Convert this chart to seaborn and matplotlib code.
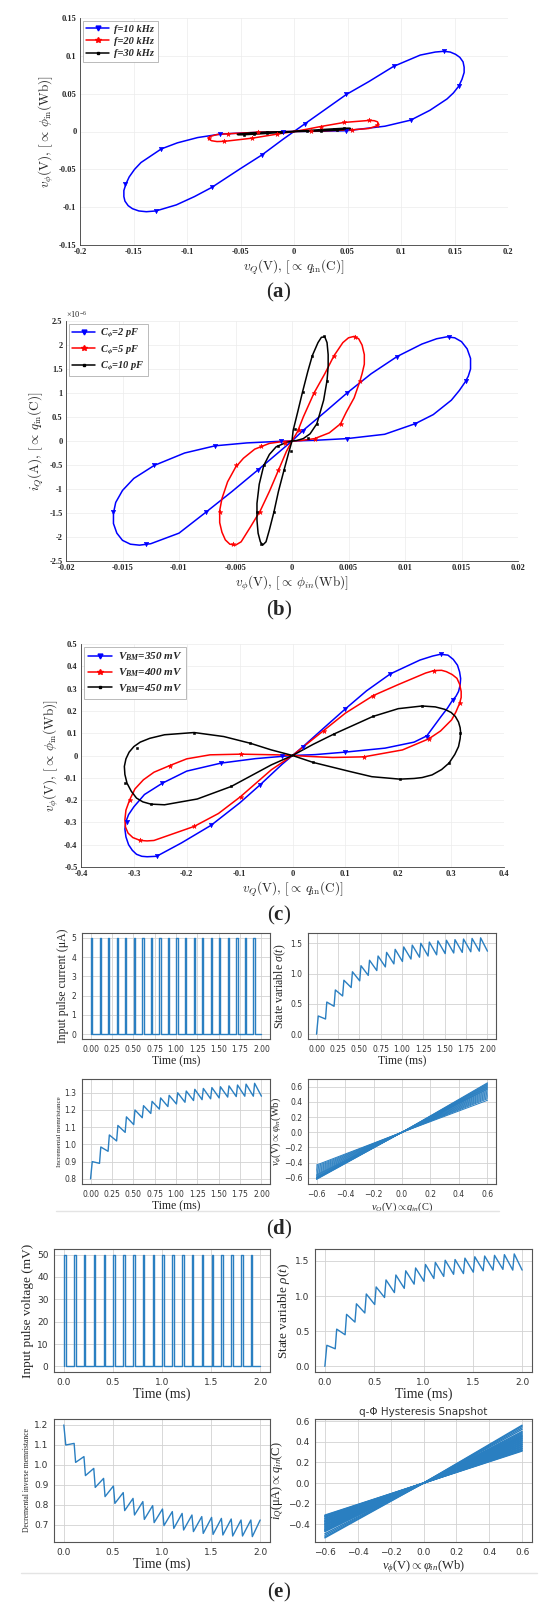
import numpy as np
import pandas as pd
import matplotlib
matplotlib.use('Agg')
import matplotlib.pyplot as plt
from matplotlib.lines import Line2D
from matplotlib.ticker import FormatStrFormatter
import seaborn as sns

sns.set_style('white')
plt.rcParams['font.family'] = ['DejaVu Sans']
plt.rcParams['mathtext.fontset'] = 'custom'
plt.rcParams['mathtext.rm'] = 'Liberation Serif'
plt.rcParams['mathtext.it'] = 'Liberation Serif:italic'
plt.rcParams['mathtext.bf'] = 'Liberation Serif:bold'
plt.rcParams['mathtext.bfit'] = 'Liberation Serif:italic:bold'

SERIF = 'Liberation Serif'

# ---------------- panel (a): frequency sweep ----------------
A_LABELS = ['f=10 kHz', 'f=20 kHz', 'f=30 kHz']
A_BLUE_X = [0, 0.010, 0.030, 0.049, 0.070, 0.093, 0.118, 0.132, 0.140, 0.146, 0.151, 0.155, 0.158, 0.159,
            0.159, 0.157, 0.154, 0.149, 0.143, 0.127, 0.109, 0.085, 0.049, 0.020, 0, -0.020, -0.050, -0.069,
            -0.090, -0.109, -0.124, -0.143, -0.149, -0.154, -0.157, -0.159, -0.159, -0.158, -0.155, -0.151,
            -0.145, -0.138, -0.129, -0.110, -0.093, -0.077, -0.050, -0.030, -0.010, 0]
A_BLUE_Y = [0, 0.010, 0.030, 0.049, 0.066, 0.086, 0.101, 0.105, 0.106, 0.105, 0.102, 0.098, 0.092, 0.085,
            0.078, 0.069, 0.060, 0.051, 0.043, 0.028, 0.015, 0.007, 0.001, 0.0003, 0, -0.0005, -0.002, -0.0035,
            -0.008, -0.015, -0.023, -0.041, -0.050, -0.060, -0.069, -0.078, -0.086, -0.092, -0.098, -0.102,
            -0.105, -0.106, -0.105, -0.097, -0.086, -0.074, -0.049, -0.031, -0.010, 0]
A_BLUE_MX = [0.010, 0.049, 0.093, 0.140, 0.154, 0.109, 0.049, -0.010, -0.069, -0.124, -0.158, -0.129, -0.077, -0.030]
A_BLUE_MY = [0.010, 0.049, 0.086, 0.106, 0.060, 0.015, 0.001, -0.0005, -0.0035, -0.023, -0.070, -0.105, -0.074, -0.031]

A_RED_X = [0, 0.012, 0.025, 0.047, 0.070, 0.075, 0.078, 0.079, 0.077, 0.070, 0.054, 0.030, 0.012, 0, -0.016,
           -0.039, -0.065, -0.072, -0.077, -0.080, -0.079, -0.072, -0.062, -0.034, -0.012, 0]
A_RED_Y = [0, 0.003, 0.0066, 0.012, 0.0146, 0.0143, 0.0128, 0.010, 0.0072, 0.004, 0.0022, 0.001, 0.0004, 0,
           -0.0035, -0.0088, -0.0130, -0.0133, -0.0122, -0.0095, -0.0068, -0.004, -0.003, -0.001, -0.0004, 0]
A_RED_MX = [0.025, 0.047, 0.070, 0.078, 0.054, 0.016, -0.016, -0.039, -0.065, -0.079, -0.062, -0.034]
A_RED_MY = [0.0066, 0.012, 0.0146, 0.009, 0.0022, 0.0006, -0.0035, -0.0088, -0.013, -0.009, -0.003, -0.001]

A_BLACK_X = [0, 0.012, 0.025, 0.037, 0.047, 0.052, 0.053, 0.050, 0.040, 0.025, 0.010, 0, -0.010, -0.025,
             -0.040, -0.050, -0.053, -0.052, -0.047, -0.037, -0.025, -0.012, 0]
A_BLACK_Y = [0, 0.0012, 0.0025, 0.0035, 0.0043, 0.0044, 0.0038, 0.0030, 0.0018, 0.0008, 0.0002, 0, -0.0002,
             -0.0008, -0.0018, -0.0030, -0.0038, -0.0044, -0.0043, -0.0035, -0.0025, -0.0012, 0]
A_BLACK_MX = [0.012, 0.025, 0.037, 0.047, 0.040, 0.025, -0.012, -0.025, -0.037, -0.047, -0.040, -0.025]
A_BLACK_MY = [0.0012, 0.0025, 0.0035, 0.0043, 0.0018, 0.0008, -0.0012, -0.0025, -0.0035, -0.0043, -0.0018, -0.0008]

A_XTICKS = [-0.2, -0.15, -0.1, -0.05, 0, 0.05, 0.1, 0.15, 0.2]
A_YTICKS = [-0.15, -0.1, -0.05, 0, 0.05, 0.1, 0.15]

# ---------------- panel (b): capacitance sweep (y in units of 1e-6 A) ----------------
B_LABELS = [r'$\mathbfit{C_\phi}$=2 pF', r'$\mathbfit{C_\phi}$=5 pF', r'$\mathbfit{C_\phi}$=10 pF']
B_BLUE_X = [0, 0.00093, 0.0030, 0.00487, 0.0070, 0.0093, 0.0115, 0.0128, 0.0137, 0.0144, 0.0150, 0.0155,
            0.0158, 0.0158, 0.0156, 0.0153, 0.0148, 0.0141, 0.0125, 0.0109, 0.0082, 0.00487, 0.0020, 0,
            -0.0011, -0.0040, -0.0068, -0.0095, -0.0122, -0.0140, -0.0150, -0.0156, -0.0158, -0.0158,
            -0.0155, -0.0150, -0.0143, -0.0135, -0.0125, -0.0100, -0.0076, -0.0053, -0.0030, -0.0012, 0]
B_BLUE_Y = [0, 0.21, 0.62, 1.0, 1.40, 1.76, 2.02, 2.13, 2.17, 2.15, 2.07, 1.92, 1.72, 1.50, 1.35, 1.22, 1.05,
            0.85, 0.55, 0.36, 0.14, 0.05, 0.014, 0, -0.007, -0.04, -0.10, -0.25, -0.51, -0.78, -1.03, -1.28,
            -1.50, -1.72, -1.92, -2.07, -2.15, -2.17, -2.14, -1.92, -1.48, -1.05, -0.60, -0.24, 0]
B_BLUE_MX = [0.00093, 0.00487, 0.0093, 0.0139, 0.0154, 0.0109, 0.00487, -0.0010, -0.0068, -0.0122, -0.0158,
             -0.0129, -0.0076, -0.0030]
B_BLUE_MY = [0.21, 1.0, 1.76, 2.16, 1.26, 0.36, 0.05, -0.007, -0.10, -0.51, -1.48, -2.14, -1.48, -0.60]

B_RED_X = [0, 0.0005, 0.0010, 0.00195, 0.0029, 0.0037, 0.0045, 0.0050, 0.0055, 0.0059, 0.0062, 0.0064, 0.0064,
           0.0062, 0.0060, 0.0055, 0.0048, 0.0043, 0.0033, 0.0020, 0.0008, 0, -0.0008, -0.0020, -0.0033,
           -0.0043, -0.0050, -0.0057, -0.0062, -0.0064, -0.0064, -0.0062, -0.0059, -0.0055, -0.0050, -0.0045,
           -0.0037, -0.0028, -0.0020, -0.0012, -0.0005, 0]
B_RED_Y = [0, 0.20, 0.50, 1.0, 1.40, 1.77, 2.05, 2.15, 2.18, 2.13, 2.00, 1.80, 1.60, 1.40, 1.24, 0.90, 0.60,
           0.36, 0.17, 0.05, 0.01, 0, -0.01, -0.05, -0.17, -0.36, -0.55, -0.85, -1.20, -1.45, -1.70, -1.90,
           -2.06, -2.15, -2.17, -2.10, -1.80, -1.45, -1.05, -0.61, -0.22, 0]
B_RED_MX = [0.0006, 0.00195, 0.0037, 0.0056, 0.0060, 0.0043, 0.0020, -0.0027, -0.0050, -0.0064, -0.0052,
            -0.0028, -0.0012, -0.0006]
B_RED_MY = [0.22, 1.0, 1.77, 2.17, 1.24, 0.36, 0.05, -0.10, -0.51, -1.48, -2.14, -1.48, -0.61, -0.04]

B_BLACK_X = [0, 0.0001, 0.0005, 0.00093, 0.0014, 0.0018, 0.0023, 0.0026, 0.0029, 0.0031, 0.0032, 0.0032,
             0.0031, 0.0028, 0.0022, 0.0016, 0.0010, 0.0004, 0, -0.0006, -0.0014, -0.0020, -0.0025, -0.0029,
             -0.0031, -0.0031, -0.0030, -0.0028, -0.0026, -0.0023, -0.0020, -0.0016, -0.0012, -0.0007,
             -0.0003, 0]
B_BLACK_Y = [0, 0.22, 0.60, 1.02, 1.45, 1.78, 2.05, 2.16, 2.17, 2.05, 1.80, 1.55, 1.26, 0.85, 0.36, 0.15,
             0.05, 0.01, 0, -0.04, -0.12, -0.28, -0.51, -0.90, -1.30, -1.65, -1.92, -2.10, -2.17, -2.10,
             -1.85, -1.48, -1.05, -0.60, -0.25, 0]
B_BLACK_MX = [0.00025, 0.00093, 0.0018, 0.0028, 0.0031, 0.0022, 0.0014, -0.0012, -0.0025, -0.0031, -0.0027,
              -0.0016, -0.0007, -0.0001]
B_BLACK_MY = [0.24, 1.02, 1.78, 2.18, 1.26, 0.36, 0.06, -0.10, -0.51, -1.48, -2.15, -1.48, -0.60, -0.20]

B_XTICKS = [-0.02, -0.015, -0.01, -0.005, 0, 0.005, 0.01, 0.015, 0.02]
B_YTICKS = [-2.5, -2, -1.5, -1, -0.5, 0, 0.5, 1, 1.5, 2, 2.5]

# ---------------- panel (c): bias sweep ----------------
C_LABELS = [r'$\mathbfit{V_{BM}}$=350 mV', r'$\mathbfit{V_{BM}}$=400 mV', r'$\mathbfit{V_{BM}}$=450 mV']
C_BLUE_X = [0, 0.020, 0.060, 0.099, 0.140, 0.185, 0.241, 0.265, 0.280, 0.294, 0.304, 0.312, 0.316, 0.318,
            0.317, 0.314, 0.309, 0.303, 0.293, 0.281, 0.254, 0.230, 0.175, 0.099, 0.043, 0, -0.020, -0.070,
            -0.135, -0.200, -0.246, -0.280, -0.300, -0.310, -0.315, -0.317, -0.315, -0.310, -0.303, -0.295,
            -0.285, -0.275, -0.257, -0.210, -0.154, -0.100, -0.061, -0.020, 0]
C_BLUE_Y = [0, 0.040, 0.125, 0.207, 0.290, 0.366, 0.428, 0.446, 0.454, 0.450, 0.431, 0.405, 0.375, 0.345,
            0.315, 0.287, 0.265, 0.249, 0.212, 0.175, 0.088, 0.060, 0.033, 0.015, 0.004, 0, -0.004, -0.014,
            -0.034, -0.070, -0.124, -0.175, -0.230, -0.265, -0.296, -0.330, -0.365, -0.400, -0.425, -0.443,
            -0.452, -0.454, -0.452, -0.392, -0.313, -0.213, -0.131, -0.040, 0]
C_BLUE_MX = [0.020, 0.099, 0.185, 0.280, 0.303, 0.254, 0.099, -0.020, -0.135, -0.246, -0.313, -0.257, -0.154, -0.061]
C_BLUE_MY = [0.040, 0.207, 0.366, 0.454, 0.249, 0.085, 0.015, -0.004, -0.034, -0.124, -0.296, -0.452, -0.313, -0.131]

C_RED_X = [0, 0.030, 0.059, 0.100, 0.153, 0.200, 0.228, 0.252, 0.268, 0.282, 0.291, 0.302, 0.311, 0.316,
           0.319, 0.319, 0.316, 0.309, 0.301, 0.280, 0.258, 0.208, 0.135, 0.076, 0.030, 0, -0.030, -0.098,
           -0.156, -0.200, -0.232, -0.262, -0.282, -0.298, -0.308, -0.315, -0.317, -0.316, -0.311, -0.302,
           -0.288, -0.275, -0.262, -0.186, -0.140, -0.098, -0.040, 0]
C_RED_Y = [0, 0.057, 0.112, 0.190, 0.269, 0.318, 0.346, 0.370, 0.381, 0.382, 0.376, 0.363, 0.346, 0.320,
           0.287, 0.260, 0.234, 0.195, 0.160, 0.110, 0.075, 0.025, -0.006, -0.009, -0.004, 0, 0.003, 0.006,
           0.003, -0.015, -0.045, -0.075, -0.109, -0.150, -0.199, -0.245, -0.288, -0.320, -0.348, -0.368,
           -0.381, -0.383, -0.381, -0.318, -0.260, -0.184, -0.064, 0]
C_RED_MX = [0.059, 0.153, 0.268, 0.316, 0.258, 0.135, -0.098, -0.232, -0.308, -0.288, -0.186, -0.098]
C_RED_MY = [0.112, 0.269, 0.381, 0.237, 0.075, -0.006, 0.006, -0.045, -0.199, -0.381, -0.318, -0.184]

C_BLACK_X = [0, 0.039, 0.079, 0.152, 0.200, 0.245, 0.270, 0.288, 0.300, 0.308, 0.314, 0.317, 0.318, 0.317,
             0.314, 0.307, 0.296, 0.282, 0.264, 0.245, 0.230, 0.203, 0.150, 0.109, 0.039, 0, -0.040, -0.080,
             -0.130, -0.186, -0.242, -0.270, -0.288, -0.300, -0.309, -0.315, -0.318, -0.317, -0.313, -0.305,
             -0.295, -0.283, -0.268, -0.242, -0.180, -0.116, -0.040, 0]
C_BLACK_Y = [0, 0.050, 0.097, 0.175, 0.210, 0.222, 0.218, 0.207, 0.193, 0.175, 0.150, 0.125, 0.103, 0.075,
             0.040, 0.005, -0.034, -0.063, -0.087, -0.099, -0.103, -0.106, -0.095, -0.072, -0.031, 0, 0.025,
             0.055, 0.085, 0.103, 0.093, 0.077, 0.060, 0.040, 0.015, -0.015, -0.049, -0.085, -0.124, -0.160,
             -0.191, -0.208, -0.218, -0.221, -0.195, -0.139, -0.042, 0]
C_BLACK_MX = [0.079, 0.152, 0.245, 0.317, 0.296, 0.203, 0.039, -0.080, -0.186, -0.295, -0.316, -0.268, -0.116]
C_BLACK_MY = [0.097, 0.175, 0.222, 0.103, -0.034, -0.106, -0.031, 0.055, 0.103, 0.033, -0.124, -0.218, -0.139]

C_XTICKS = [-0.4, -0.3, -0.2, -0.1, 0, 0.1, 0.2, 0.3, 0.4]
C_YTICKS = [-0.5, -0.4, -0.3, -0.2, -0.1, 0, 0.1, 0.2, 0.3, 0.4, 0.5]

# ---------------- panels (d) and (e): pulse programming ----------------
PULSE_T = [0.005, 0.105, 0.205, 0.305, 0.405, 0.505, 0.605, 0.705, 0.805, 0.905,
           1.005, 1.105, 1.205, 1.305, 1.405, 1.505, 1.605, 1.705, 1.805, 1.905]
T_END = 2.0
D_PULSE_AMP = 5     # uA
E_PULSE_AMP = 50    # mV

SIGMA_START = 0.0
SIGMA_AFTER = [0.30, 0.53, 0.73, 0.89, 1.03, 1.13, 1.22, 1.29, 1.35, 1.40,
               1.44, 1.47, 1.50, 1.52, 1.54, 1.55, 1.56, 1.57, 1.58, 1.59]
SIGMA_BEFORE = [0.25, 0.46, 0.63, 0.77, 0.88, 0.97, 1.05, 1.11, 1.16, 1.20,
                1.24, 1.27, 1.29, 1.31, 1.33, 1.34, 1.35, 1.36, 1.37, 1.37]

MEM_START = 0.80
MEM_AFTER = [0.90, 0.985, 1.055, 1.11, 1.16, 1.20, 1.225, 1.25, 1.27, 1.285,
             1.30, 1.31, 1.32, 1.325, 1.33, 1.335, 1.34, 1.345, 1.35, 1.355]
MEM_BEFORE = [0.89, 0.96, 1.02, 1.07, 1.115, 1.155, 1.18, 1.205, 1.22, 1.235,
              1.245, 1.255, 1.26, 1.265, 1.27, 1.275, 1.278, 1.28, 1.28, 1.28]

RHO_START = 0.0
RHO_AFTER = [0.30, 0.53, 0.74, 0.89, 1.03, 1.13, 1.23, 1.30, 1.36, 1.40,
             1.45, 1.48, 1.51, 1.52, 1.54, 1.56, 1.57, 1.58, 1.59, 1.60]
RHO_BEFORE = [0.25, 0.45, 0.63, 0.76, 0.88, 0.98, 1.05, 1.11, 1.17, 1.21,
              1.25, 1.28, 1.31, 1.32, 1.34, 1.36, 1.37, 1.38, 1.37, 1.37]

INV_START = 1.20
INV_AFTER = [1.10, 1.013, 0.947, 0.888, 0.842, 0.808, 0.772, 0.75, 0.728, 0.712,
             0.697, 0.683, 0.675, 0.667, 0.658, 0.653, 0.65, 0.645, 0.645, 0.642]
INV_BEFORE = [1.108, 1.042, 0.983, 0.933, 0.895, 0.862, 0.833, 0.817, 0.797, 0.78,
              0.767, 0.758, 0.75, 0.742, 0.738, 0.733, 0.73, 0.725, 0.725, 0.725]

FAN_X = [-0.6, 0.6]
FAN_D_LEFT = [-0.43, -0.445, -0.46, -0.475, -0.49, -0.505, -0.52, -0.535, -0.55, -0.56,
              -0.57, -0.58, -0.59, -0.595, -0.60, -0.605, -0.61, -0.615, -0.62]
FAN_D_RIGHT = [0.42, 0.44, 0.455, 0.47, 0.485, 0.50, 0.515, 0.53, 0.545, 0.56,
               0.57, 0.58, 0.59, 0.60, 0.61, 0.62, 0.63, 0.64, 0.65]
FAN_E_LEFT = [-0.31, -0.315, -0.32, -0.325, -0.33, -0.34, -0.345, -0.35, -0.36, -0.365,
              -0.37, -0.375, -0.38, -0.39, -0.395, -0.40, -0.405, -0.41, -0.42, -0.425,
              -0.43, -0.44, -0.445, -0.45, -0.455, -0.46, -0.465, -0.47, -0.49, -0.505, -0.52, -0.53]
FAN_E_RIGHT = [0.31, 0.315, 0.32, 0.33, 0.335, 0.34, 0.35, 0.355, 0.36, 0.37,
               0.375, 0.38, 0.39, 0.395, 0.40, 0.41, 0.415, 0.42, 0.43, 0.435,
               0.44, 0.45, 0.455, 0.46, 0.47, 0.48, 0.49, 0.50, 0.52, 0.535, 0.55, 0.56]

D_TIME_TICKS = [0, 0.25, 0.5, 0.75, 1.0, 1.25, 1.5, 1.75, 2.0]
E_TIME_TICKS = [0, 0.5, 1.0, 1.5, 2.0]
FAN_TICKS = [-0.6, -0.4, -0.2, 0.0, 0.2, 0.4, 0.6]

BLUE, RED, BLACK = '#0000ff', '#ff0000', '#000000'
MPL_BLUE = '#2a7fc1'

W, H = 550, 1612
fig = plt.figure(figsize=(W / 100, H / 100), dpi=100)


def px_axes(l, t, r, b):
    return fig.add_axes([l / W, 1 - b / H, (r - l) / W, (b - t) / H])


def matlab_style(ax, xticks, yticks):
    ax.set_xlim(xticks[0], xticks[-1])
    ax.set_ylim(yticks[0], yticks[-1])
    ax.set_xticks(xticks)
    ax.set_yticks(yticks)
    ax.set_xticklabels([f'{v:g}' for v in xticks])
    ax.set_yticklabels([f'{v:g}' for v in yticks])
    for lbl in ax.get_xticklabels() + ax.get_yticklabels():
        lbl.set_fontfamily(SERIF)
        lbl.set_fontweight('bold')
    for sp in ['top', 'right']:
        ax.spines[sp].set_visible(False)
    for sp in ['left', 'bottom']:
        ax.spines[sp].set_color('#3a3a3a')
        ax.spines[sp].set_linewidth(0.6)
    ax.tick_params(direction='in', length=2.5, width=0.5, color='#3a3a3a',
                   labelsize=6, pad=2.5)
    ax.grid(True, color='#ececec', lw=0.5)
    ax.set_axisbelow(True)


def loop(ax, x, y, mx, my, color, marker, ms):
    sns.lineplot(x=x, y=y, sort=False, estimator=None, color=color, lw=1.1,
                 solid_joinstyle='round', ax=ax)
    sns.scatterplot(x=mx, y=my, marker=marker, s=ms, color=color, edgecolor=color,
                    linewidth=0.4, ax=ax, zorder=3)


def matlab_legend(ax, labels, size):
    specs = [(BLUE, 'v', 3.5), (RED, '*', 4.0), (BLACK, 's', 2.0)]
    handles = [Line2D([0], [0], color=c, marker=m, ms=s, lw=1.1) for c, m, s in specs]
    leg = ax.legend(handles, labels, loc='upper left', fancybox=False, framealpha=1,
                    edgecolor='#a0a0a0', borderpad=0.35, labelspacing=0.3, handlelength=2.2,
                    handletextpad=0.5, borderaxespad=0.25,
                    prop={'family': SERIF, 'weight': 'bold', 'style': 'italic', 'size': size})
    leg.get_frame().set_linewidth(0.5)


def panel_label(y, letter):
    fig.text(279 / W, 1 - y / H, r'($\mathbf{' + letter + '}$)', ha='center', va='center',
             fontsize=15, family=SERIF)


# ---- (a)
ax = px_axes(80, 18, 508, 245)
loop(ax, A_BLUE_X, A_BLUE_Y, A_BLUE_MX, A_BLUE_MY, BLUE, 'v', 10)
loop(ax, A_RED_X, A_RED_Y, A_RED_MX, A_RED_MY, RED, '*', 12)
loop(ax, A_BLACK_X, A_BLACK_Y, A_BLACK_MX, A_BLACK_MY, BLACK, 's', 4)
matlab_style(ax, A_XTICKS, A_YTICKS)
matlab_legend(ax, A_LABELS, 7.5)
ax.set_xlabel(r'$v_Q(\mathrm{V}),\,[\propto\,q_{\mathrm{in}}(\mathrm{C})]$', fontsize=9.5,
              math_fontfamily='cm', labelpad=1)
ax.set_ylabel(r'$v_\phi(\mathrm{V}),\,[\propto\,\phi_{\mathrm{in}}(\mathrm{Wb})]$', fontsize=9.5,
              math_fontfamily='cm', labelpad=2)
panel_label(292, 'a')

# ---- (b)
ax = px_axes(66, 321, 518, 561)
loop(ax, B_BLUE_X, B_BLUE_Y, B_BLUE_MX, B_BLUE_MY, BLUE, 'v', 10)
loop(ax, B_RED_X, B_RED_Y, B_RED_MX, B_RED_MY, RED, '*', 12)
loop(ax, B_BLACK_X, B_BLACK_Y, B_BLACK_MX, B_BLACK_MY, BLACK, 's', 4)
matlab_style(ax, B_XTICKS, B_YTICKS)
matlab_legend(ax, B_LABELS, 7.5)
ax.text(0.0, 1.004, r'$\times10^{-6}$', transform=ax.transAxes, fontsize=6, va='bottom', ha='left')
ax.set_xlabel(r'$v_\phi(\mathrm{V}),\,[\propto\,\phi_{in}(\mathrm{Wb})]$', fontsize=9.5,
              math_fontfamily='cm', labelpad=1)
ax.set_ylabel(r'$i_Q(\mathrm{A}),\,[\propto\,q_{\mathrm{in}}(\mathrm{C})]$', fontsize=9.5,
              math_fontfamily='cm', labelpad=2)
panel_label(610, 'b')

# ---- (c)
ax = px_axes(81, 644, 504, 867)
loop(ax, C_BLUE_X, C_BLUE_Y, C_BLUE_MX, C_BLUE_MY, BLUE, 'v', 10)
loop(ax, C_RED_X, C_RED_Y, C_RED_MX, C_RED_MY, RED, '*', 12)
loop(ax, C_BLACK_X, C_BLACK_Y, C_BLACK_MX, C_BLACK_MY, BLACK, 's', 4)
matlab_style(ax, C_XTICKS, C_YTICKS)
matlab_legend(ax, C_LABELS, 8)
ax.set_xlabel(r'$v_Q(\mathrm{V}),\,[\propto\,q_{\mathrm{in}}(\mathrm{C})]$', fontsize=9.5,
              math_fontfamily='cm', labelpad=1)
ax.set_ylabel(r'$v_\phi(\mathrm{V}),\,[\propto\,\phi_{\mathrm{in}}(\mathrm{Wb})]$', fontsize=9.5,
              math_fontfamily='cm', labelpad=2)
panel_label(915, 'c')


# ---- helpers for the python-style panels
def pulse_frame(starts, width, amp):
    xs, ys = [0.0], [0.0]
    for t in starts:
        xs += [t, t, t + width, t + width]
        ys += [0, amp, amp, 0]
    xs.append(T_END)
    ys.append(0)
    return pd.DataFrame({'t': xs, 'v': ys})


def saw_frame(starts, width, v0, after, before):
    xs, ys = [0.0], [v0]
    for i, t in enumerate(starts):
        t_next = starts[i + 1] if i + 1 < len(starts) else T_END
        xs += [t + width, t_next]
        ys += [after[i], before[i]]
    return pd.DataFrame({'t': xs, 'v': ys})


def fan_frame(left, right):
    rows = []
    for k, (yl, yr) in enumerate(zip(left, right)):
        rows += [(k, FAN_X[0], yl), (k, 0.0, 0.0), (k, FAN_X[1], yr)]
    return pd.DataFrame(rows, columns=['line', 'x', 'y'])


def py_style(ax, xticks, yticks, xlim, ylim, labelsize, xfmt=None, yfmt=None):
    ax.set_xticks(xticks)
    ax.set_yticks(yticks)
    ax.set_xlim(xlim)
    ax.set_ylim(ylim)
    if xfmt:
        ax.xaxis.set_major_formatter(FormatStrFormatter(xfmt))
    if yfmt:
        ax.yaxis.set_major_formatter(FormatStrFormatter(yfmt))
    for sp in ax.spines.values():
        sp.set_visible(True)
        sp.set_color('#555555')
        sp.set_linewidth(0.8)
    ax.grid(True, color='#d2d2d2', lw=0.6)
    ax.set_axisbelow(True)
    ax.tick_params(direction='out', length=2.5, width=0.6, color='#555555',
                   labelsize=labelsize, labelcolor='#333333', pad=1.5)


PULSE_W = 0.015
PW = 1.0
TIME_LIM = (-0.1, 2.1)
FAN_LIM = (-0.66, 0.66)

# ---- (d)
ax = px_axes(82, 933, 270, 1039)
sns.lineplot(data=pulse_frame(PULSE_T, PULSE_W, D_PULSE_AMP), x='t', y='v', sort=False,
             estimator=None, color=MPL_BLUE, lw=1.0, ax=ax)
py_style(ax, D_TIME_TICKS, [0, 1, 2, 3, 4, 5], TIME_LIM, (-0.25, 5.25), 5.5, xfmt='%.2f', yfmt='%d')
ax.set_xlabel('Time (ms)', family=SERIF, fontsize=8.5, labelpad=1)
ax.set_ylabel('Input pulse current (μA)', family=SERIF, fontsize=8.5, labelpad=2)

ax = px_axes(308, 933, 496, 1039)
sns.lineplot(data=saw_frame(PULSE_T, PULSE_W, SIGMA_START, SIGMA_AFTER, SIGMA_BEFORE), x='t', y='v',
             sort=False, estimator=None, color=MPL_BLUE, lw=PW, ax=ax)
py_style(ax, D_TIME_TICKS, [0.0, 0.5, 1.0, 1.5], TIME_LIM, (-0.08, 1.67), 5.5, xfmt='%.2f', yfmt='%.1f')
ax.set_xlabel('Time (ms)', family=SERIF, fontsize=8.5, labelpad=1)
ax.set_ylabel(r'State variable $\sigma(t)$', family=SERIF, fontsize=8.5, labelpad=2)

ax = px_axes(82, 1079, 270, 1184)
sns.lineplot(data=saw_frame(PULSE_T, PULSE_W, MEM_START, MEM_AFTER, MEM_BEFORE), x='t', y='v',
             sort=False, estimator=None, color=MPL_BLUE, lw=PW, ax=ax)
py_style(ax, D_TIME_TICKS, [0.8, 0.9, 1.0, 1.1, 1.2, 1.3], TIME_LIM, (0.77, 1.38), 5.5,
         xfmt='%.2f', yfmt='%.1f')
ax.set_xlabel('Time (ms)', family=SERIF, fontsize=8.5, labelpad=1)
ax.set_ylabel('Incremental memristance', family=SERIF, fontsize=5, labelpad=2)

ax = px_axes(308, 1079, 496, 1184)
sns.lineplot(data=fan_frame(FAN_D_LEFT, FAN_D_RIGHT), x='x', y='y', units='line', estimator=None,
             sort=False, color=MPL_BLUE, lw=0.7, ax=ax)
py_style(ax, FAN_TICKS, FAN_TICKS, FAN_LIM, (-0.68, 0.70), 5.5)
ax.set_xlabel(r'$v_Q$(V)$\propto q_{in}$(C)', family=SERIF, fontsize=7.5, labelpad=1)
ax.set_ylabel(r'$v_\phi$(V)$\propto\varphi_{in}$(Wb)', family=SERIF, fontsize=7.5, labelpad=1)

fig.add_artist(Line2D([56 / W, 499 / W], [1 - 1211 / H] * 2, color='#e4e4e4', lw=1.0))
panel_label(1229, 'd')

# ---- (e)
ax = px_axes(54, 1249, 270, 1372)
sns.lineplot(data=pulse_frame(PULSE_T, PULSE_W, E_PULSE_AMP), x='t', y='v', sort=False,
             estimator=None, color=MPL_BLUE, lw=1.0, ax=ax)
py_style(ax, E_TIME_TICKS, [0, 10, 20, 30, 40, 50], TIME_LIM, (-2.5, 52.5), 6.5, xfmt='%.1f', yfmt='%d')
ax.set_xlabel('Time (ms)', family=SERIF, fontsize=10, labelpad=1)
ax.set_ylabel('Input pulse voltage (mV)', family=SERIF, fontsize=9.5, labelpad=2)

ax = px_axes(315, 1249, 532, 1372)
sns.lineplot(data=saw_frame(PULSE_T, PULSE_W, RHO_START, RHO_AFTER, RHO_BEFORE), x='t', y='v',
             sort=False, estimator=None, color=MPL_BLUE, lw=PW, ax=ax)
py_style(ax, E_TIME_TICKS, [0.0, 0.5, 1.0, 1.5], TIME_LIM, (-0.08, 1.67), 6.5, xfmt='%.1f', yfmt='%.1f')
ax.set_xlabel('Time (ms)', family=SERIF, fontsize=10, labelpad=1)
ax.set_ylabel(r'State variable $\rho(t)$', family=SERIF, fontsize=9.5, labelpad=2)

ax = px_axes(54, 1419, 270, 1542)
sns.lineplot(data=saw_frame(PULSE_T, PULSE_W, INV_START, INV_AFTER, INV_BEFORE), x='t', y='v',
             sort=False, estimator=None, color=MPL_BLUE, lw=PW, ax=ax)
py_style(ax, E_TIME_TICKS, [0.7, 0.8, 0.9, 1.0, 1.1, 1.2], TIME_LIM, (0.615, 1.23), 6.5,
         xfmt='%.1f', yfmt='%.1f')
ax.set_xlabel('Time (ms)', family=SERIF, fontsize=10, labelpad=1)
ax.set_ylabel('Decremental inverse memristance', family=SERIF, fontsize=5.5, labelpad=2)

ax = px_axes(315, 1419, 532, 1542)
sns.lineplot(data=fan_frame(FAN_E_LEFT, FAN_E_RIGHT), x='x', y='y', units='line', estimator=None,
             sort=False, color=MPL_BLUE, lw=1.0, ax=ax)
py_style(ax, FAN_TICKS, [-0.4, -0.2, 0.0, 0.2, 0.4, 0.6], FAN_LIM, (-0.57, 0.62), 6.5)
ax.set_title('q-Φ Hysteresis Snapshot', fontsize=7.5, color='#333333', pad=3)
ax.set_xlabel(r'$v_\phi$(V)$\propto\varphi_{in}$(Wb)', family=SERIF, fontsize=9, labelpad=1)
ax.set_ylabel(r'$i_Q$(μA)$\propto q_{in}$(C)', family=SERIF, fontsize=9, labelpad=1)

fig.add_artist(Line2D([21 / W, 537 / W], [1 - 1573 / H] * 2, color='#e4e4e4', lw=1.0))
panel_label(1592, 'e')

fig.savefig('out.png', dpi=100, facecolor='white')
